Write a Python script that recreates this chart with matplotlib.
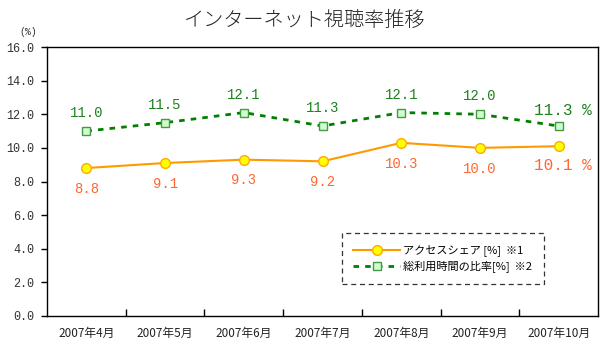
import matplotlib
matplotlib.use("Agg")
import matplotlib.pyplot as plt
import numpy as np

months = ["2007年4月", "2007年5月", "2007年6月", "2007年7月", "2007年8月", "2007年9月", "2007年10月"]
access_share = [8.8, 9.1, 9.3, 9.2, 10.3, 10.0, 10.1]
time_ratio = [11.0, 11.5, 12.1, 11.3, 12.1, 12.0, 11.3]
yticks = [0, 2, 4, 6, 8, 10, 12, 14, 16]
title = "インターネット視聴率推移"
label_access = "アクセスシェア [%]  ※1"
label_time = "総利用時間の比率[%]  ※2"

CJK = ["Noto Sans CJK JP", "DejaVu Sans"]
MONO = ["Liberation Mono", "DejaVu Sans Mono"]

fig = plt.figure(figsize=(6.10, 3.54), dpi=100)
ax = fig.add_axes([47/610, 1-316/354, (598-47)/610, (316-47)/354])

x = np.arange(len(months))
orange_line = "#FF9900"
orange_text = "#FF6633"
green_line = "#008000"
green_text = "#1E801E"

ax.plot(x, access_share, color=orange_line, lw=1.5, marker="o", ms=7,
        mfc="#FFFF00", mec="#FFAA00", mew=1, label=label_access, zorder=3)
ax.plot(x, time_ratio, color=green_line, lw=2.0, ls=(0, (2, 2.2)), marker="s", ms=6,
        mfc="#CCFFCC", mec="#449944", mew=1, label=label_time, zorder=3)

n = len(months)
for i, v in enumerate(time_ratio):
    if i == n - 1:
        ax.annotate(f"{v:.1f} %", (x[i], v), xytext=(3, 11), textcoords="offset points",
                    ha="center", va="center", color=green_text, fontsize=11.5, family=MONO)
    else:
        ax.annotate(f"{v:.1f}", (x[i], v), xytext=(0, 13), textcoords="offset points",
                    ha="center", va="center", color=green_text, fontsize=10, family=MONO)
for i, v in enumerate(access_share):
    if i == n - 1:
        ax.annotate(f"{v:.1f} %", (x[i], v), xytext=(3, -14), textcoords="offset points",
                    ha="center", va="center", color=orange_text, fontsize=11.5, family=MONO)
    else:
        ax.annotate(f"{v:.1f}", (x[i], v), xytext=(0, -15), textcoords="offset points",
                    ha="center", va="center", color=orange_text, fontsize=10, family=MONO)

ax.set_xlim(-0.5, n - 0.5)
ax.set_ylim(0, 16)
ax.set_yticks(yticks)
ax.set_yticklabels([f"{t:.1f}" for t in yticks], family=MONO, fontsize=8.5)
ax.tick_params(axis="y", direction="out", length=4, width=1, pad=5, colors="black", labelcolor="#333333")

ax.set_xticks(np.arange(n - 1) + 0.5)
ax.set_xticklabels([])
ax.tick_params(axis="x", which="major", direction="in", length=5, width=1)
ax.set_xticks(x, minor=True)
ax.set_xticklabels(months, minor=True, family=CJK, fontsize=8.5, color="#222222")
ax.tick_params(axis="x", which="minor", length=0, pad=8)

for s in ax.spines.values():
    s.set_linewidth(1.0)
    s.set_color("black")

leg = ax.legend(loc="lower left", bbox_to_anchor=(0.535, 0.118), prop={"family": CJK, "size": 8},
                frameon=True, fancybox=False, handlelength=4.2, handletextpad=0.3,
                borderpad=1.05, labelspacing=0.35, borderaxespad=0)
fr = leg.get_frame()
fr.set_edgecolor("black")
fr.set_linestyle((0, (4, 3)))
fr.set_linewidth(0.9)

fig.text(0.5, 1-20/354, title, ha="center", va="center", fontsize=14.5, family=CJK,
         fontweight="light", color="#222222")
fig.text(28/610, 1-32/354, "(%)", ha="center", va="center", fontsize=7, family=MONO, color="#333333")

fig.savefig("out.png", dpi=100)
